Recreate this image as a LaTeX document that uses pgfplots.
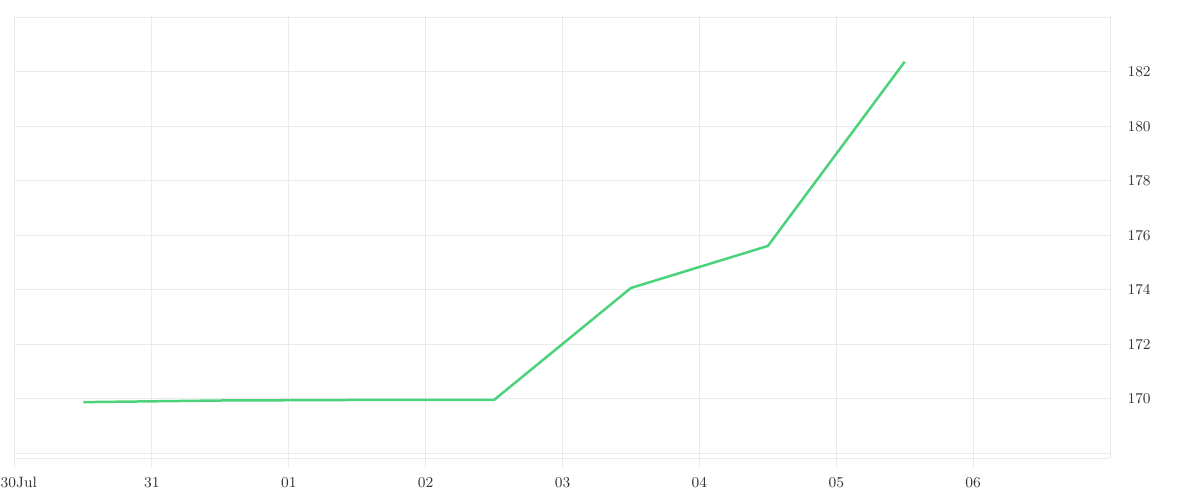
\documentclass[border=0pt]{standalone}
\usepackage{pgfplots}
\pgfplotsset{compat=1.18}
\definecolor{linegreen}{HTML}{4CD27A}
\definecolor{gridgray}{HTML}{EBEBEB}
\definecolor{ticktext}{HTML}{333333}

\pgfplotstableread{
x y
0.5 169.88
1.5 169.94
2.5 169.96
3.5 169.96
4.5 174.07
5.5 175.61
6.5 182.37
}\price

\begin{document}
\begin{tikzpicture}
\path[use as bounding box] (-9pt,-25.2pt) rectangle (711pt,274.8pt);
\begin{axis}[
    at={(0,0)}, anchor=south west,
    scale only axis,
    width=657pt, height=265.2pt,
    xmin=0, xmax=8,
    ymin=167.83, ymax=184.05,
    xtick={0,1,...,7},
    xticklabels={\makebox[0pt][l]{\hspace{-8.6pt}30Jul},31,01,02,03,04,05,06},
    ytick={168,170,...,184},
    yticklabels={,170,172,174,176,178,180,182,},
    axis x line*=bottom,
    axis y line*=right,
    axis line style={draw=gridgray, line width=0.6pt},
    grid=major,
    grid style={draw=gridgray, line width=0.6pt},
    x tick style={draw=gridgray, line width=0.6pt},
    y tick style={draw=none},
    tick align=outside,
    major tick length=6pt,
    ticklabel style={font=\fontsize{9}{11}\selectfont, text=ticktext},
    xticklabel style={yshift=-2pt},
    yticklabel style={anchor=west, xshift=1pt},
    clip=false,
]
\addplot[linegreen, line width=1.5pt, line join=round] table[x=x, y=y] {\price};
\end{axis}
\end{tikzpicture}
\end{document}
